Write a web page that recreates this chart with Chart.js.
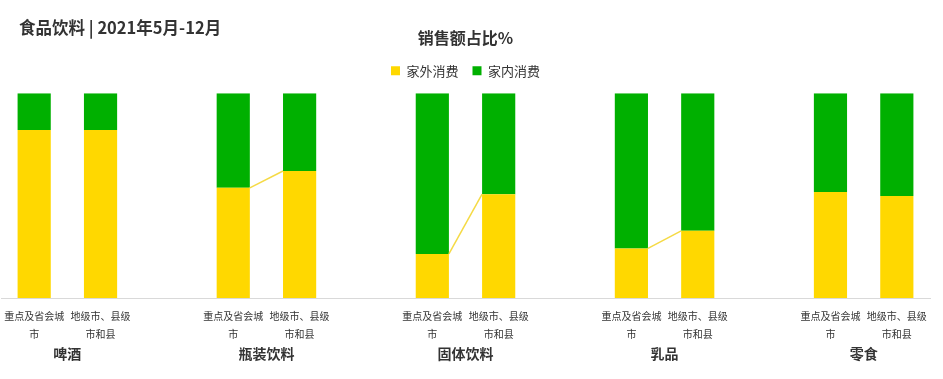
<!DOCTYPE html>
<html>
<head>
    <title>食品饮料 销售额占比</title>
    <style>
        body {
            margin: 0;
            background: #ffffff;
            font-family: 'Noto Sans CJK SC', sans-serif;
        }
        #wrap {
            position: relative;
            width: 943px;
            height: 379px;
        }
        #heading {
            position: absolute;
            left: 19px;
            top: 15px;
            font-size: 16.5px;
            font-weight: bold;
            color: #333;
        }
    </style>
    <script src="https://cdn.jsdelivr.net/npm/chart.js"></script>
</head>
<body>
    <div id="wrap">
        <div id="heading">食品饮料 | 2021年5月-12月</div>
        <canvas id="salesChart"></canvas>
    </div>
    <script>
        // categories
        const groups = ['啤酒', '瓶装饮料', '固体饮料', '乳品', '零食'];
        const tierLabels = [['重点及省会城', '市'], ['地级市、县级', '市和县']];
        const seriesNames = ['家外消费', '家内消费'];

        // share of sales (%), tier 1 = 重点及省会城市, tier 2 = 地级市、县级市和县
        const outHomeTier1 = [82, 53.8, 21.5, 24.2, 51.7];
        const outHomeTier2 = [82, 62, 50.7, 32.8, 49.8];
        const inHomeTier1 = [18, 46.2, 78.5, 75.8, 48.3];
        const inHomeTier2 = [18, 38, 49.3, 67.2, 50.2];

        // which groups get the connector line between the two yellow tops
        const showLink = [false, true, true, true, false];

        const yellow = '#FFD800';
        const green = '#00B000';

        // two bars per group, one empty slot between groups
        const labels = [];
        const outData = [];
        const inData = [];
        groups.forEach(function(g, i) {
            labels.push(tierLabels[0], tierLabels[1]);
            outData.push(outHomeTier1[i], outHomeTier2[i]);
            inData.push(inHomeTier1[i], inHomeTier2[i]);
            if (i < groups.length - 1) {
                labels.push('');
                outData.push(null);
                inData.push(null);
            }
        });

        // a bit more room under the legend
        const legendGap = {
            id: 'legendGap',
            beforeInit(chart) {
                const fit = chart.legend.fit;
                chart.legend.fit = function() {
                    fit.call(this);
                    this.height += 6;
                };
            }
        };

        const decor = {
            id: 'decor',
            afterDatasetsDraw(chart) {
                const ctx = chart.ctx;
                const bars = chart.getDatasetMeta(0).data;
                const xScale = chart.scales.x;
                ctx.save();
                ctx.strokeStyle = '#F5DA45';
                ctx.lineWidth = 1.5;
                groups.forEach(function(g, i) {
                    if (!showLink[i]) return;
                    const a = bars[i * 3];
                    const b = bars[i * 3 + 1];
                    ctx.beginPath();
                    ctx.moveTo(a.x + a.width / 2, a.y);
                    ctx.lineTo(b.x - b.width / 2, b.y);
                    ctx.stroke();
                });
                ctx.fillStyle = '#333';
                ctx.font = 'bold 14px "Noto Sans CJK SC"';
                ctx.textAlign = 'center';
                ctx.textBaseline = 'middle';
                groups.forEach(function(g, i) {
                    const cx = (xScale.getPixelForValue(i * 3) + xScale.getPixelForValue(i * 3 + 1)) / 2;
                    ctx.fillText(g, cx, chart.chartArea.bottom + 56);
                });
                ctx.restore();
            }
        };

        new Chart(document.getElementById('salesChart'), {
            type: 'bar',
            data: {
                labels: labels,
                datasets: [{
                    label: seriesNames[0],
                    data: outData,
                    backgroundColor: yellow,
                    barPercentage: 1,
                    categoryPercentage: 0.5
                }, {
                    label: seriesNames[1],
                    data: inData,
                    backgroundColor: green,
                    barPercentage: 1,
                    categoryPercentage: 0.5
                }]
            },
            options: {
                responsive: true,
                maintainAspectRatio: false,
                animation: false,
                layout: {
                    padding: { left: 1, right: 13, top: 5, bottom: 27 }
                },
                scales: {
                    x: {
                        stacked: true,
                        grid: { display: false, drawTicks: false },
                        border: { display: true, color: '#d9d9d9' },
                        ticks: {
                            autoSkip: false,
                            maxRotation: 0,
                            padding: 9,
                            color: '#333',
                            font: { family: 'Noto Sans CJK SC', size: 10, lineHeight: 1.8 }
                        },
                        // labels may hang past the edge slots, like the original
                        afterFit: function(scale) {
                            scale.paddingLeft = 0;
                            scale.paddingRight = 0;
                        }
                    },
                    y: {
                        stacked: true,
                        display: false,
                        min: 0,
                        max: 100
                    }
                },
                plugins: {
                    title: {
                        display: true,
                        text: '销售额占比%',
                        color: '#333',
                        font: { family: 'Noto Sans CJK SC', size: 16, weight: 'bold' },
                        padding: { top: 23, bottom: 3 }
                    },
                    legend: {
                        labels: {
                            boxWidth: 9,
                            boxHeight: 9,
                            padding: 14,
                            color: '#333',
                            font: { family: 'Noto Sans CJK SC', size: 13 }
                        }
                    },
                    tooltip: { enabled: false }
                }
            },
            plugins: [legendGap, decor]
        });
    </script>
</body>
</html>
